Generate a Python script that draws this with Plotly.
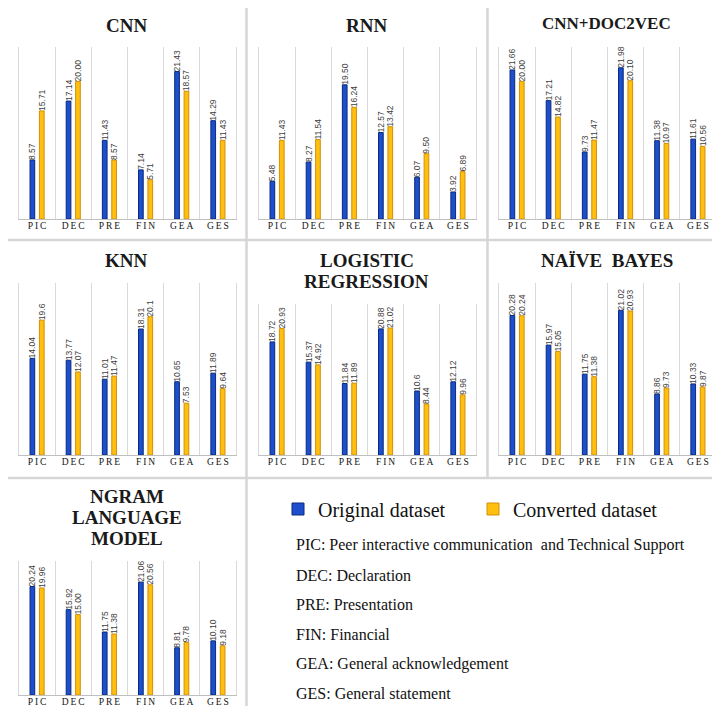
import plotly.graph_objects as go

W, H = 720, 706

# ---------------- data ----------------
categories = ["PIC", "DEC", "PRE", "FIN", "GEA", "GES"]
tick_labels = ["P\u2009I\u2009C", "D\u2009E\u2009C", "P\u2009R\u2009E", "F\u2009I\u2009N", "G\u2009E\u2009A", "G\u2009E\u2009S"]
series_names = ["Original dataset", "Converted dataset"]

panel_titles = ["CNN", "RNN", "CNN+DOC2VEC", "KNN", "LOGISTIC<br>REGRESSION",
                "NAÏVE\u00a0 BAYES", "NGRAM<br>LANGUAGE<br>MODEL"]

cnn_original = ["8.57", "17.14", "11.43", "7.14", "21.43", "14.29"]
cnn_converted = ["15.71", "20.00", "8.57", "5.71", "18.57", "11.43"]
rnn_original = ["5.48", "8.27", "19.50", "12.57", "6.07", "3.92"]
rnn_converted = ["11.43", "11.54", "16.24", "13.42", "9.50", "6.89"]
doc2vec_original = ["21.66", "17.21", "9.73", "21.98", "11.38", "11.61"]
doc2vec_converted = ["20.00", "14.82", "11.47", "20.10", "10.97", "10.56"]
knn_original = ["14.04", "13.77", "11.01", "18.31", "10.65", "11.89"]
knn_converted = ["19.6", "12.07", "11.47", "20.1", "7.53", "9.64"]
logreg_original = ["18.72", "15.37", "11.84", "20.88", "10.6", "12.12"]
logreg_converted = ["20.93", "14.92", "11.89", "21.02", "8.44", "9.96"]
bayes_original = ["20.28", "15.97", "11.75", "21.02", "8.86", "10.33"]
bayes_converted = ["20.24", "15.05", "11.38", "20.93", "9.73", "9.87"]
ngram_original = ["20.24", "15.92", "11.75", "21.06", "8.81", "10.10"]
ngram_converted = ["19.96", "15.00", "11.38", "20.56", "9.78", "9.18"]

definitions = [
    "PIC: Peer interactive communication\u00a0 and Technical Support",
    "DEC: Declaration",
    "PRE: Presentation",
    "FIN: Financial",
    "GEA: General acknowledgement",
    "GES: General statement",
]

panel_data = [
    (cnn_original, cnn_converted),
    (rnn_original, rnn_converted),
    (doc2vec_original, doc2vec_converted),
    (knn_original, knn_converted),
    (logreg_original, logreg_converted),
    (bayes_original, bayes_converted),
    (ngram_original, ngram_converted),
]

# ---------------- layout geometry (pixels) ----------------
cols = [(11, 228), (251, 468), (491, 708)]
plot_boxes = [
    (cols[0], (39, 211)), (cols[1], (39, 211)), (cols[2], (39, 211)),
    (cols[0], (275, 447)), (cols[1], (296, 447)), (cols[2], (275, 447)),
    (cols[0], (553, 687)),
]
title_tops = [17, 17, 16, 253, 253, 253, 489]
title_sizes = [19, 19, 17, 19, 19, 19, 19]
TITLE_LINE = 20.5

BLUE, BLUE_EDGE = "#1D4ECB", "#0A2A7C"
ORANGE, ORANGE_EDGE = "#FFBF0F", "#D38F0A"
GRID = "#D9D9D9"
SERIF = "Liberation Serif"
SANS = "Liberation Sans"


def px_x(x):
    return x / W


def px_y(y):
    return 1 - y / H


fig = go.Figure()
layout_axes = {}

for i, (orig, conv) in enumerate(panel_data):
    k = "" if i == 0 else str(i + 1)
    (x0, x1), (ytop, ybot) = plot_boxes[i]
    for name, vals, col, edge in [
        (series_names[0], orig, BLUE, BLUE_EDGE),
        (series_names[1], conv, ORANGE, ORANGE_EDGE),
    ]:
        fig.add_trace(go.Bar(
            x=categories, y=[float(v) for v in vals], text=vals,
            name=name, legendgroup=name, showlegend=(i == 0),
            marker=dict(color=col, line=dict(color=edge, width=1)),
            textposition="outside", textangle=-90, constraintext="none",
            textfont=dict(family=SANS, size=8.5, color="#404040"),
            cliponaxis=False, xaxis="x" + k, yaxis="y" + k,
            hoverinfo="skip",
        ))
    layout_axes["xaxis" + k] = dict(
        domain=[px_x(x0), px_x(x1)], anchor="y" + k, type="category",
        range=[-0.5, 5.5], tickson="boundaries", showgrid=True,
        gridcolor=GRID, gridwidth=1, showline=True, linecolor="#BFBFBF",
        linewidth=1, ticks="", tickvals=categories, ticktext=tick_labels,
        tickfont=dict(family=SERIF, size=9.5, color="#141414"),
        ticklabelstandoff=-2, fixedrange=True,
    )
    layout_axes["yaxis" + k] = dict(
        domain=[px_y(ybot), px_y(ytop)], anchor="x" + k, range=[0, 25],
        showgrid=False, zeroline=False, showticklabels=False, ticks="",
        showline=True, mirror=True, linecolor=GRID, linewidth=1,
        fixedrange=True,
    )

annotations = []
for i, title in enumerate(panel_titles):
    (x0, x1), _ = plot_boxes[i]
    for j, line in enumerate(title.split("<br>")):
        annotations.append(dict(
            text=line, xref="paper", yref="paper",
            x=px_x((x0 + x1) / 2 - 1), y=px_y(title_tops[i] + j * TITLE_LINE),
            xanchor="center", yanchor="middle", showarrow=False,
            font=dict(family=SERIF, size=title_sizes[i], color="#1a1a1a", weight="bold"),
        ))

def_y = [537, 567, 596, 626, 656, 685]
for txt, yy in zip(definitions, def_y):
    annotations.append(dict(
        text=txt, xref="paper", yref="paper", x=px_x(286), y=px_y(yy),
        xanchor="left", yanchor="middle", showarrow=False,
        font=dict(family=SERIF, size=16, color="#111111"),
    ))

line_style = dict(color="#D6D6D6", width=2.5)
shapes = [
    dict(type="line", xref="paper", yref="paper", x0=0, x1=1,
         y0=px_y(232), y1=px_y(232), line=line_style),
    dict(type="line", xref="paper", yref="paper", x0=0, x1=1,
         y0=px_y(470), y1=px_y(470), line=line_style),
    dict(type="line", xref="paper", yref="paper", x0=px_x(238.5), x1=px_x(238.5),
         y0=0, y1=1, line=line_style),
    dict(type="line", xref="paper", yref="paper", x0=px_x(479.5), x1=px_x(479.5),
         y0=px_y(470), y1=1, line=line_style),
]

fig.update_layout(
    width=W, height=H, margin=dict(l=0, r=0, t=0, b=0),
    paper_bgcolor="white", plot_bgcolor="white",
    barmode="group", bargap=0.48, bargroupgap=0.5,
    showlegend=True,
    legend=dict(orientation="h", x=px_x(270), y=px_y(501), xanchor="left",
                yanchor="middle", font=dict(family=SERIF, size=20, color="#111111"),
                bgcolor="rgba(0,0,0,0)", entrywidth=150, itemclick=False),
    annotations=annotations, shapes=shapes,
    **layout_axes,
)

fig.write_html("out.html")
